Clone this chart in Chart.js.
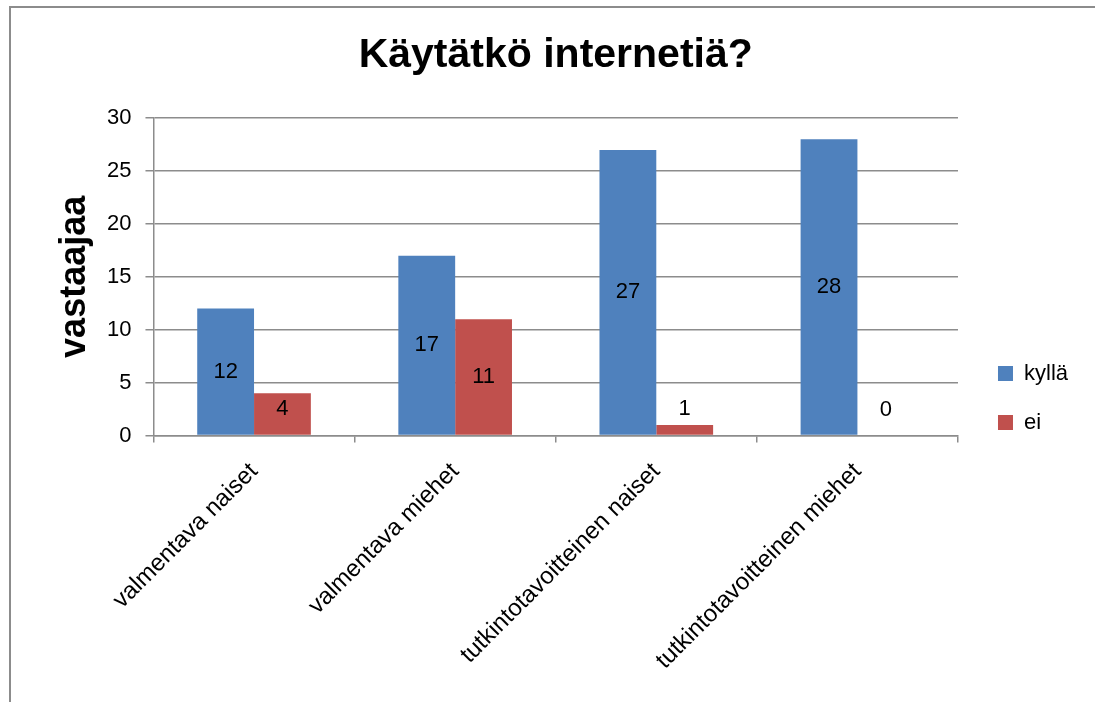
<!DOCTYPE html>
<html>
<head>
<meta charset="utf-8">
<script src="https://cdn.jsdelivr.net/npm/chart.js@4.4.1/dist/chart.umd.min.js"></script>
<style>
  html, body { margin: 0; padding: 0; background: #fff; overflow: hidden; }
  .frame { position: absolute; left: 9px; top: 6px; width: 1200px; height: 800px; border: 2px solid #8c8c8c; }
  .wrap { position: absolute; left: 0; top: 0; width: 1095px; height: 702px; }
</style>
</head>
<body>
<div class="frame"></div>
<div class="wrap"><canvas id="chart"></canvas></div>
<script>
const categories = ['valmentava naiset', 'valmentava miehet', 'tutkintotavoitteinen naiset', 'tutkintotavoitteinen miehet'];
const seriesNames = ['kyllä', 'ei'];
const kylla = [12, 17, 27, 28];
const ei = [4, 11, 1, 0];
const yMin = 0;
const yMax = 30;
const yStep = 5;

const gridGray = '#8c8c8c';
Chart.defaults.font.family = '"Liberation Sans", Arial, sans-serif';
Chart.defaults.font.size = 22;
Chart.defaults.color = '#000';

// value labels in the middle of each bar, lifted a bit for very short bars
const barLabels = {
  id: 'barLabels',
  afterDatasetsDraw(chart) {
    const ctx = chart.ctx;
    ctx.save();
    ctx.font = '22px "Liberation Sans", Arial, sans-serif';
    ctx.fillStyle = '#000';
    ctx.textAlign = 'center';
    ctx.textBaseline = 'middle';
    chart.data.datasets.forEach((ds, i) => {
      chart.getDatasetMeta(i).data.forEach((bar, j) => {
        const y = Math.min((bar.y + bar.base) / 2, bar.base - 26);
        ctx.fillText(ds.data[j], bar.x, y);
      });
    });
    ctx.restore();
  }
};

// push the legend a little to sit like in the original
const legendNudge = {
  id: 'legendNudge',
  afterLayout(chart) {
    const l = chart.legend;
    l.left += 13; l.right += 13;
    l.top += 25; l.bottom += 25;
  }
};

new Chart(document.getElementById('chart'), {
  type: 'bar',
  data: {
    labels: categories,
    datasets: [
      { label: seriesNames[0], data: kylla, backgroundColor: '#4f81bd' },
      { label: seriesNames[1], data: ei, backgroundColor: '#c0504d' }
    ]
  },
  options: {
    responsive: true,
    maintainAspectRatio: false,
    animation: false,
    layout: { padding: { left: 40, right: 30, top: 0, bottom: 12 } },
    datasets: { bar: { barPercentage: 1, categoryPercentage: 0.565 } },
    plugins: {
      title: {
        display: true,
        text: 'Käytätkö internetiä?',
        fullSize: false,
        font: { size: 41, weight: 'bold' },
        padding: { top: 31, bottom: 38 }
      },
      legend: {
        position: 'right',
        align: 'end',
        fullSize: false,
        labels: { boxWidth: 15, boxHeight: 15, padding: 27, font: { size: 22 } }
      },
      tooltip: { enabled: false }
    },
    scales: {
      x: {
        grid: { offset: true, drawOnChartArea: false, tickLength: 7, color: gridGray, lineWidth: 1.5 },
        border: { color: gridGray, width: 1.5 },
        ticks: { minRotation: 45, maxRotation: 45, autoSkip: false, padding: 15, font: { size: 24 } }
      },
      y: {
        min: yMin,
        max: yMax,
        ticks: { stepSize: yStep, padding: 14 },
        grid: { tickLength: 8, color: gridGray, lineWidth: 1.5 },
        border: { color: gridGray, width: 1.5 },
        title: {
          display: true,
          text: 'vastaajaa',
          font: { size: 36, weight: 'bold', lineHeight: 1 },
          padding: { top: 17, bottom: 0 }
        }
      }
    }
  },
  plugins: [barLabels, legendNudge]
});
</script>
</body>
</html>
